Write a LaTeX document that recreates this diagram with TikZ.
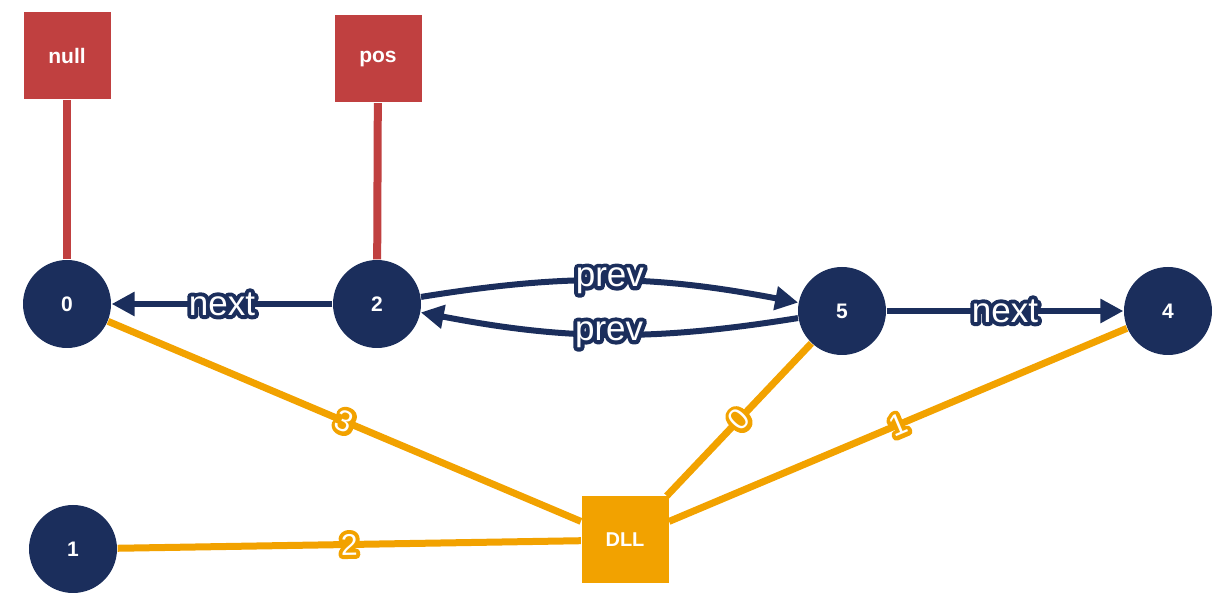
\documentclass[tikz,border=0pt]{standalone}
\usepackage{fontspec}
\setmainfont{Liberation Sans}
\usepackage{tikz}
\usetikzlibrary{arrows.meta}
\definecolor{NAVY}{HTML}{1B2E5C}
\definecolor{RED}{HTML}{C04040}
\definecolor{ORANGE}{HTML}{F2A200}
% outlined white text: stroke-only copy under a white copy
\newcommand{\halotag}[2]{\leavevmode\rlap{\special{pdf:literal direct 1 J 1 j 4 w #1 RG 1 Tr}#2\special{pdf:literal direct 0 Tr}}\textcolor{white}{#2}}
\newcommand{\navytag}[1]{\halotag{0.106 0.180 0.361}{#1}}
\newcommand{\orangetag}[1]{\halotag{0.949 0.635 0}{#1}}

\begin{document}
\begin{tikzpicture}[x=0.5pt,y=-0.5pt,>={Triangle[length=11.5pt,width=11.5pt]},semithick]
	\tikzstyle{item}=[circle,fill=NAVY,minimum size=44pt,inner sep=0pt,text=white,font=\bfseries\fontsize{10.5}{12}\selectfont]
	\tikzstyle{pointer}=[rectangle,fill=RED,minimum size=43.5pt,inner sep=0pt,text=white,font=\bfseries\fontsize{10.5}{12}\selectfont]
	\tikzstyle{list}=[rectangle,fill=ORANGE,minimum size=43.5pt,inner sep=0pt,text=white,font=\bfseries\fontsize{10}{12}\selectfont]
	\tikzstyle{link}=[NAVY,line width=3pt,->]
	\tikzstyle{slot}=[ORANGE,line width=3.5pt]
	\tikzstyle{word}=[inner sep=0pt,font=\fontsize{17.5}{18}\selectfont]
	\tikzstyle{index}=[inner sep=0pt,sloped,font=\fontsize{15}{16}\selectfont]
	
	\useasboundingbox (0,0) rectangle (1228,603);
	
	\node[pointer] (null) at (67,56)   {null};
	\node[pointer] (pos)  at (378,59)  {pos};
	\node[item]    (n0)   at (67,304)  {0};
	\node[item]    (n2)   at (377,304) {2};
	\node[item]    (n5)   at (842,311) {5};
	\node[item]    (n4)   at (1168,311){4};
	\node[item]    (n1)   at (73,549)  {1};
	\node[list]    (dll)  at (625,540) {DLL};
	
	\path 
	(null)   edge [RED, line width=4pt]  node {} (n0)
	(pos)    edge [RED, line width=4pt]  node {} (n2)
	(n2)     edge [link]                 node [word] {\navytag{next}} (n0)
	         edge [link, bend left=10]   node [word] {\navytag{prev}} (n5)
	(n5)     edge [link, bend left=10]   node [word] {\navytag{prev}} (n2)
	         edge [link]                 node [word] {\navytag{next}} (n4)
	(dll)    edge [slot]                 node [index] {\orangetag{3}} (n0)
	         edge [slot]                 node [index] {\orangetag{2}} (n1)
	         edge [slot]                 node [index] {\orangetag{0}} (n5)
	         edge [slot]                 node [index] {\orangetag{1}} (n4);
\end{tikzpicture}
\end{document}
